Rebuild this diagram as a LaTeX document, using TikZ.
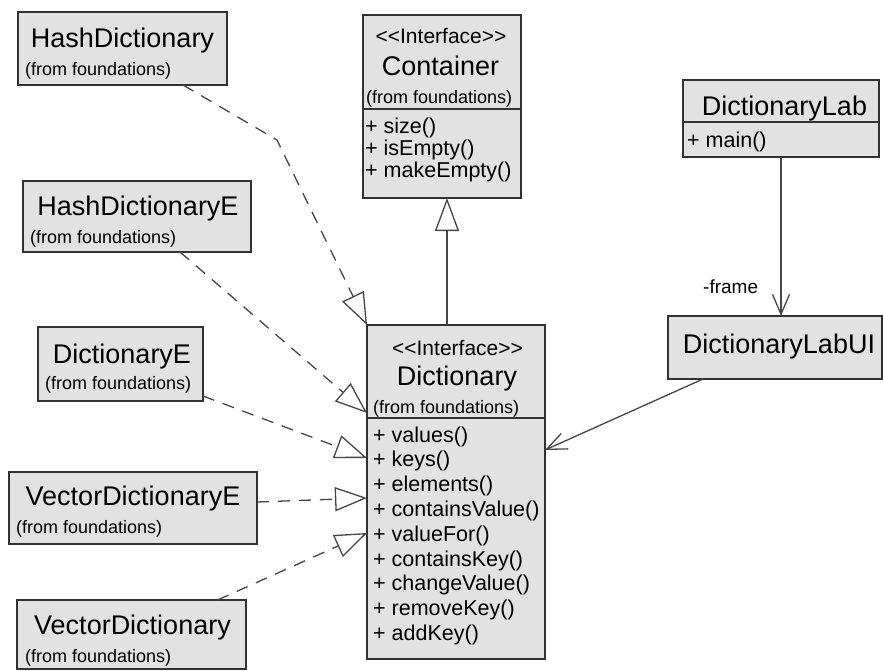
\documentclass[tikz,border=0pt]{standalone}
\usepackage{fontspec}
\setmainfont{Liberation Sans}
\usetikzlibrary{arrows.meta,calc}
\definecolor{boxfill}{RGB}{226,226,226}
\definecolor{boxline}{RGB}{50,50,50}
\definecolor{linkcol}{RGB}{70,70,70}
\newcommand{\stereo}{<\kern0pt<Interface>\kern0pt>}
\begin{document}
\begin{tikzpicture}[x=1pt,y=-1pt,
  cls/.style={draw=boxline, fill=boxfill, line width=1.3pt, inner sep=0pt, outer sep=0pt},
  nm/.style={font=\fontsize{27}{30}\selectfont, inner sep=0pt, anchor=base, text=black},
  ff/.style={font=\fontsize{18}{20}\selectfont, inner sep=0pt, anchor=base west, text=black},
  st/.style={font=\fontsize{21}{24}\selectfont, inner sep=0pt, anchor=base, text=black},
  op/.style={font=\fontsize{21.5}{24}\selectfont, inner sep=0pt, anchor=base west, text=black},
  sep/.style={draw=boxline, line width=1.1pt},
  real/.style={draw=linkcol, line width=1.3pt, dash pattern=on 12pt off 9pt,
     -{Triangle[open, length=32pt, width=24pt]}},
  gen/.style={draw=linkcol, line width=1.3pt, -{Triangle[open, length=33pt, width=24pt]}},
  assoc/.style={draw=linkcol, line width=1.3pt, -{Straight Barb[length=20pt, width=17pt]}}
]
\useasboundingbox (0,0) rectangle (883,670);

% boxes
\node[cls, minimum width=209pt, minimum height=73pt] (hd)  at (122.5,48.5) {};
\node[cls, minimum width=228pt, minimum height=71pt] (hde) at (137,216.5) {};
\node[cls, minimum width=165pt, minimum height=74pt] (de)  at (120.5,364) {};
\node[cls, minimum width=248pt, minimum height=72pt] (vde) at (133,508) {};
\node[cls, minimum width=229pt, minimum height=69pt] (vd)  at (131.5,634.5) {};
\node[cls, minimum width=158pt, minimum height=183pt] (ct) at (442,106.5) {};
\node[cls, minimum width=178pt, minimum height=334pt] (dict) at (456,492) {};
\node[cls, minimum width=196pt, minimum height=77pt] (dl)  at (781,118.5) {};
\node[cls, minimum width=214pt, minimum height=63pt] (dlu) at (775,347.5) {};

% separators
\draw[sep] (ct.west |- 0,109) -- (ct.east |- 0,109);
\draw[sep] (dict.west |- 0,418) -- (dict.east |- 0,418);
\draw[sep] (dl.west |- 0,122) -- (dl.east |- 0,122);

% texts
\node[nm] (hdn) at (122.5,47) {HashDictionary};
\node[ff] (hdf) at (25,75) {(from foundations)};
\node[nm] (hden) at (138,215) {HashDictionaryE};
\node[ff] (hdef) at (30,243) {(from foundations)};
\node[nm] (den) at (122,363) {DictionaryE};
\node[ff] (def) at (45,389) {(from foundations)};
\node[nm] (vden) at (133,505) {VectorDictionaryE};
\node[ff] (vdef) at (16,533) {(from foundations)};
\node[nm] (vdn) at (132.5,634) {VectorDictionary};
\node[ff] (vdf) at (25,662) {(from foundations)};

\node[st] (cts) at (441,43) {\stereo};
\node[nm] (ctn) at (440.5,75) {Container};
\node[ff] (ctf) at (366,103) {(from foundations)};
\node[op] (cto1) at (365,133) {+ size()};
\node[op] (cto2) at (365,155) {+ isEmpty()};
\node[op] (cto3) at (365,177) {+ makeEmpty()};

\node[st] (dis) at (457.5,355) {\stereo};
\node[nm] (din) at (457,385) {Dictionary};
\node[ff] (dif) at (373,413) {(from foundations)};
\node[op] (dio1) at (373,442) {+ values()};
\node[op] (dio2) at (373,466.8) {+ keys()};
\node[op] (dio3) at (373,491.6) {+ elements()};
\node[op] (dio4) at (373,516.4) {+ containsValue()};
\node[op] (dio5) at (373,541.2) {+ valueFor()};
\node[op] (dio6) at (373,566) {+ containsKey()};
\node[op] (dio7) at (373,590.8) {+ changeValue()};
\node[op] (dio8) at (373,615.6) {+ removeKey()};
\node[op] (dio9) at (373,640.4) {+ addKey()};

\node[nm] (dln) at (784.5,115) {DictionaryLab};
\node[op] (dlo) at (687,147) {+ main()};
\node[nm] (dlun) at (779,353) {DictionaryLabUI};
\node[font=\fontsize{19}{21}\selectfont, inner sep=0pt, anchor=base west, text=black] (frm) at (703,293) {-frame};

% connectors
\coordinate (b1) at (277,140);
\draw[real] ([xshift=-44pt]hd.south east) -- (b1) -- (dict.north west);
\draw[real] ([xshift=43pt]hde.south) -- ([yshift=79pt]dict.west);
\draw[real] ([yshift=5pt]de.south east) -- ([yshift=34pt]dict.west);
\draw[real] ([yshift=6pt]vde.east) -- ([yshift=-6pt]dict.west);
\draw[real] ([xshift=86pt]vd.north) -- ([yshift=-41pt]dict.west);
\draw[gen] ([xshift=-9pt]dict.north) -- ([xshift=-9pt]dict.north |- ct.south);
\draw[assoc] (dl.south) -- (dl.south |- dlu.north);
\draw[assoc] ([xshift=35pt]dlu.south west) -- ([yshift=42pt]dict.east);
\end{tikzpicture}
\end{document}
